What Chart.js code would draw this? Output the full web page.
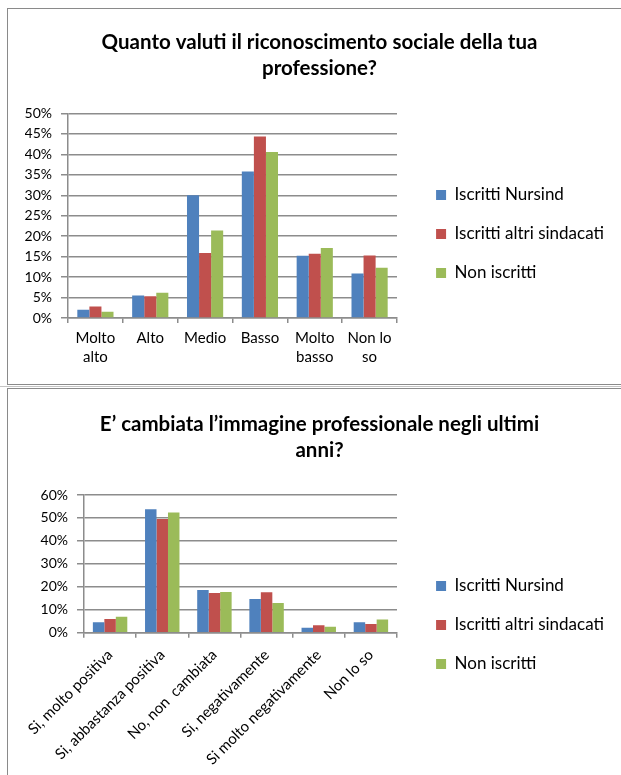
<!DOCTYPE html>
<html><head><meta charset="utf-8">
<script src="https://cdn.jsdelivr.net/npm/chart.js@4"></script>
<style>
html,body{margin:0;padding:0;background:#fff;overflow:hidden;width:621px;height:775px;}
.box{position:absolute;border:1.5px solid #8a8a8a;}
#b1{left:7px;top:8px;width:640px;height:375px;}
#b2{left:7px;top:388px;width:640px;height:420px;}
#sep{position:absolute;left:0;top:386px;width:621px;height:0;border-top:1px solid #c4c4c4;}
#c1{position:absolute;left:0;top:0;}
#c2{position:absolute;left:0;top:386px;}
</style></head>
<body>
<div class="box" id="b1"></div>
<div id="sep"></div>
<div class="box" id="b2"></div>
<canvas id="c1" width="621" height="384"></canvas>
<canvas id="c2" width="621" height="389"></canvas>
<script>
// ---- data ----
const seriesNames = ['Iscritti Nursind', 'Iscritti altri sindacati', 'Non iscritti'];
const seriesColors = ['#4F81BD', '#C0504D', '#9BBB59'];

const title1 = ['Quanto valuti il riconoscimento sociale della tua', 'professione?'];
const categories1 = [['Molto', 'alto'], 'Alto', 'Medio', 'Basso', ['Molto', 'basso'], ['Non lo', 'so']];
const nursind1 = [2.0, 5.5, 30.0, 35.8, 15.2, 10.9];
const altri1 = [2.8, 5.3, 15.9, 44.4, 15.7, 15.3];
const nonIscritti1 = [1.5, 6.2, 21.4, 40.6, 17.1, 12.3];
const yMax1 = 50, yStep1 = 5;

const title2 = ['E\u2019 cambiata l\u2019immagine professionale negli ultimi', 'anni?'];
const categories2 = ['Si, molto positiva', 'Si, abbastanza positiva', 'No, non  cambiata', 'Si, negativamente', 'Si molto negativamente', 'Non lo so'];
const nursind2 = [4.5, 53.8, 18.6, 14.7, 2.2, 4.6];
const altri2 = [6.0, 49.5, 17.3, 17.6, 3.2, 3.8];
const nonIscritti2 = [7.0, 52.4, 17.7, 12.9, 2.6, 5.8];
const yMax2 = 60, yStep2 = 10;

// ---- chart builder ----
const GRID = '#8c8c8c';
const PL = 25, PR = 7, AREA_RIGHT = 397;
function build(canvas, opt) {
  const H = canvas.height, W = canvas.width;
  return new Chart(canvas, {
    type: 'bar',
    data: {
      labels: opt.categories,
      datasets: opt.series.map((d, i) => ({
        label: seriesNames[i], data: d, backgroundColor: seriesColors[i],
        borderWidth: 0, categoryPercentage: 0.66, barPercentage: 1.0, yAxisID: 'y'
      }))
    },
    options: {
      responsive: false, animation: false,
      layout: { padding: { left: PL, right: PR, top: 0, bottom: 0 } },
      plugins: {
        tooltip: { enabled: false },
        title: {
          display: true, text: opt.title, color: '#000',
          font: { family: 'Lato', size: 20.5, weight: 'bold', lineHeight: '26px' },
          padding: { top: opt.titleTop, bottom: opt.titleBottom }
        },
        legend: {
          position: 'right', align: 'start', fullSize: true, maxWidth: 260,
          title: { display: true, text: '', font: { size: 1, lineHeight: 0 }, padding: { top: opt.legendOffset, bottom: 0 } },
          labels: { boxWidth: 10, boxHeight: 10, padding: 22, color: '#000', font: { family: 'Lato', size: 17 } }
        }
      },
      scales: {
        x: {
          grid: { drawOnChartArea: false, drawTicks: true, tickLength: 5, color: GRID, lineWidth: 1.5 },
          border: { display: true, color: GRID, width: 1.5 },
          ticks: {
            autoSkip: false, color: '#000', padding: opt.xPad,
            minRotation: opt.rot, maxRotation: opt.rot,
            font: { family: 'Lato', size: 15, lineHeight: '19px' }
          },
          afterFit: s => { s.height = H - opt.areaBottom; }
        },
        y: {
          min: 0, max: opt.yMax,
          grid: { color: GRID, lineWidth: 1.5, tickLength: 7 },
          border: { display: true, color: GRID, width: 1.5 },
          ticks: { stepSize: opt.yStep, padding: 9, color: '#000', font: { family: 'Lato', size: 14 }, callback: v => v + '%' },
          afterFit: s => { s.width = opt.areaLeft - PL; }
        },
        pad: {
          type: 'linear', position: 'right', display: true,
          grid: { display: false, drawTicks: false }, border: { display: false },
          ticks: { display: false },
          afterFit: s => {
            const lg = s.chart.legend;
            const lw = lg && lg.width ? lg.width : 200;
            s.width = Math.max(0, W - PR - lw - AREA_RIGHT);
          }
        }
      }
    }
  });
}

build(document.getElementById('c1'), {
  title: title1, categories: categories1, series: [nursind1, altri1, nonIscritti1],
  yMax: yMax1, yStep: yStep1, titleTop: 29, titleBottom: 32.5,
  areaLeft: 68, areaBottom: 318, xPad: 6, rot: 0, legendOffset: 164.5
});
build(document.getElementById('c2'), {
  title: title2, categories: categories2, series: [nursind2, altri2, nonIscritti2],
  yMax: yMax2, yStep: yStep2, titleTop: 25, titleBottom: 32,
  areaLeft: 84, areaBottom: 246.7, xPad: 8, rot: 45, legendOffset: 169.5
});
</script>
</body></html>
